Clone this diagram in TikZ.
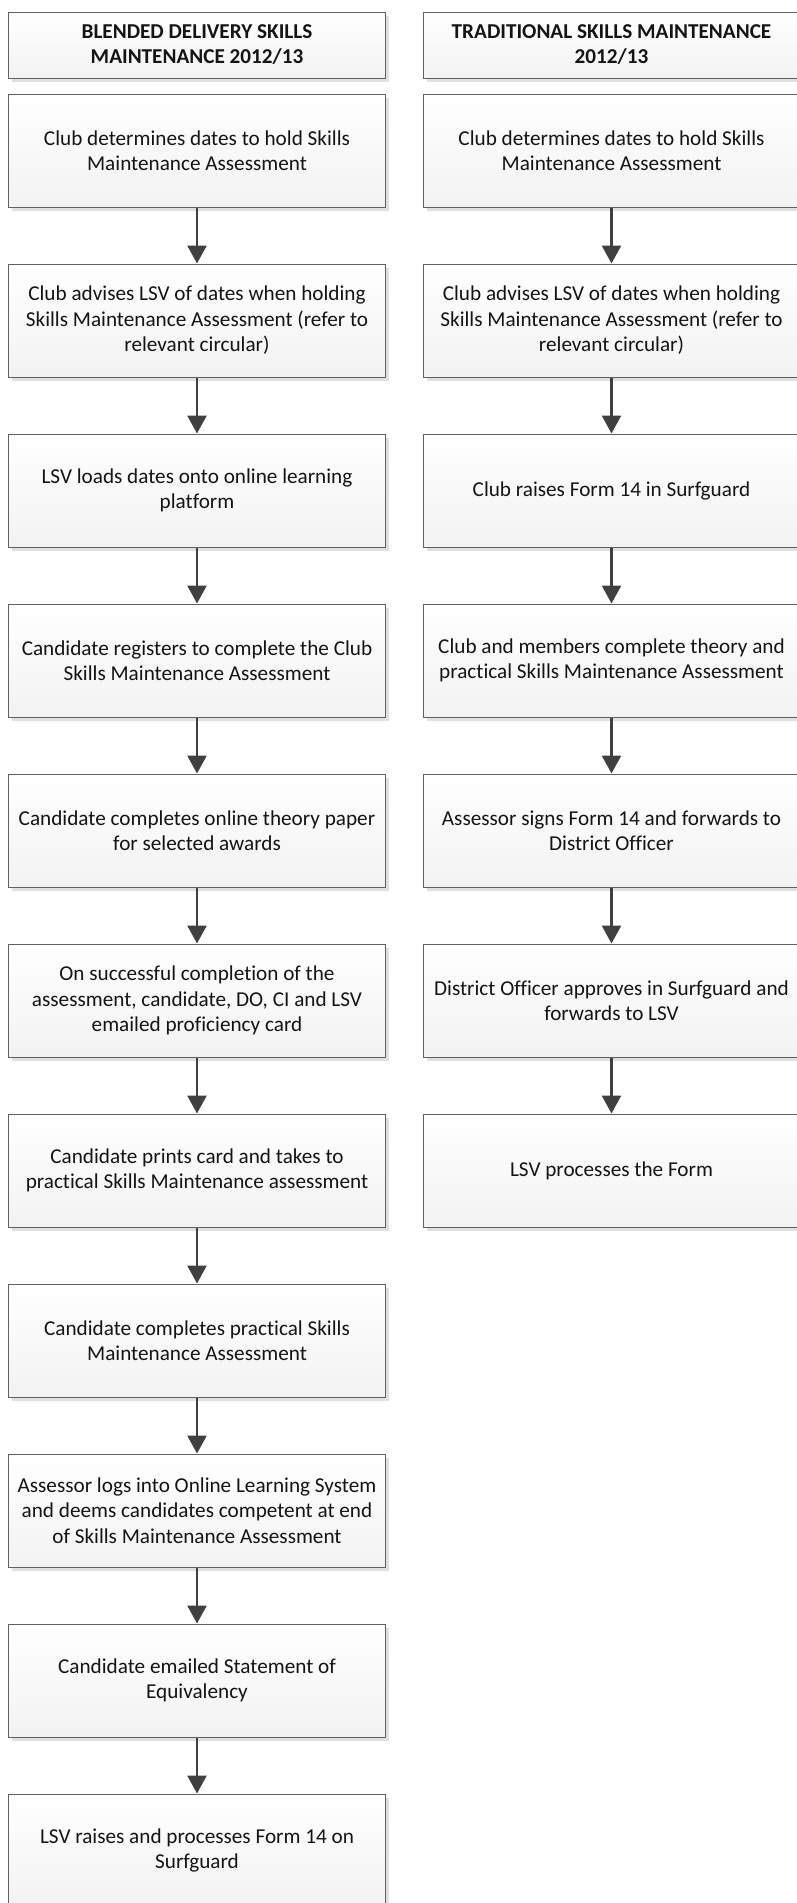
\documentclass[tikz,border=0pt]{standalone}
\usepackage{fontspec}
\setmainfont{Carlito}[Ligatures={NoCommon,NoRequired}]
\usetikzlibrary{arrows.meta,shadows}
\begin{document}
\begin{tikzpicture}[x=1pt,y=-1pt,
  box/.style={draw=black!62, line width=1pt, top color=white, bottom color=black!5,
    minimum width=377pt, minimum height=113pt, align=center, inner sep=2pt,
    font=\fontsize{21.2}{25.5}\selectfont, text=black!92,
    drop shadow={shadow xshift=3.5pt, shadow yshift=-3.5pt, fill=black!12, opacity=1}},
  headbox/.style={box, minimum height=66pt, font=\fontsize{21.2}{25}\selectfont\bfseries},
  flow/.style={draw=black!75, line width=2.6pt, -{Triangle[length=18pt,width=19pt]}}]
\useasboundingbox (0,0) rectangle (797,1903);
% left column
\node[headbox] (LH) at (197,45) {BLENDED DELIVERY SKILLS\\MAINTENANCE 2012/13};
\node[box] (L1) at (197,150.5) {Club determines dates to hold Skills\\Maintenance Assessment};
\node[box] (L2) at (197,320.5) {Club advises LSV of dates when holding\\Skills Maintenance Assessment (refer to\\relevant circular)};
\node[box] (L3) at (197,490.5) {LSV loads dates onto online learning\\platform};
\node[box] (L4) at (197,660.5) {Candidate registers to complete the Club\\Skills Maintenance Assessment};
\node[box] (L5) at (197,830.5) {Candidate completes online theory paper\\for selected awards};
\node[box] (L6) at (197,1000.5) {On successful completion of the\\assessment, candidate, DO, CI and LSV\\emailed proficiency card};
\node[box] (L7) at (197,1170.5) {Candidate prints card and takes to\\practical Skills Maintenance assessment};
\node[box] (L8) at (197,1340.5) {Candidate completes practical Skills\\Maintenance Assessment};
\node[box] (L9) at (197,1510.5) {Assessor logs into Online Learning System\\and deems candidates competent at end\\of Skills Maintenance Assessment};
\node[box] (L10) at (197,1680.5) {Candidate emailed Statement of\\Equivalency};
\node[box] (L11) at (197,1850.5) {LSV raises and processes Form 14 on\\Surfguard};
% right column
\node[headbox] (RH) at (611.5,45) {TRADITIONAL SKILLS MAINTENANCE\\2012/13};
\node[box] (R1) at (611.5,150.5) {Club determines dates to hold Skills\\Maintenance Assessment};
\node[box] (R2) at (611.5,320.5) {Club advises LSV of dates when holding\\Skills Maintenance Assessment (refer to\\relevant circular)};
\node[box] (R3) at (611.5,490.5) {Club raises Form 14 in Surfguard};
\node[box] (R4) at (611.5,660.5) {Club and members complete theory and\\practical Skills Maintenance Assessment};
\node[box] (R5) at (611.5,830.5) {Assessor signs Form 14 and forwards to\\District Officer};
\node[box] (R6) at (611.5,1000.5) {District Officer approves in Surfguard and\\forwards to LSV};
\node[box] (R7) at (611.5,1170.5) {LSV processes the Form};
% connectors
\foreach \a/\b in {L1/L2,L2/L3,L3/L4,L4/L5,L5/L6,L6/L7,L7/L8,L8/L9,L9/L10,L10/L11,
                   R1/R2,R2/R3,R3/R4,R4/R5,R5/R6,R6/R7}
  \draw[flow] (\a.south) -- (\b.north);
\end{tikzpicture}
\end{document}
